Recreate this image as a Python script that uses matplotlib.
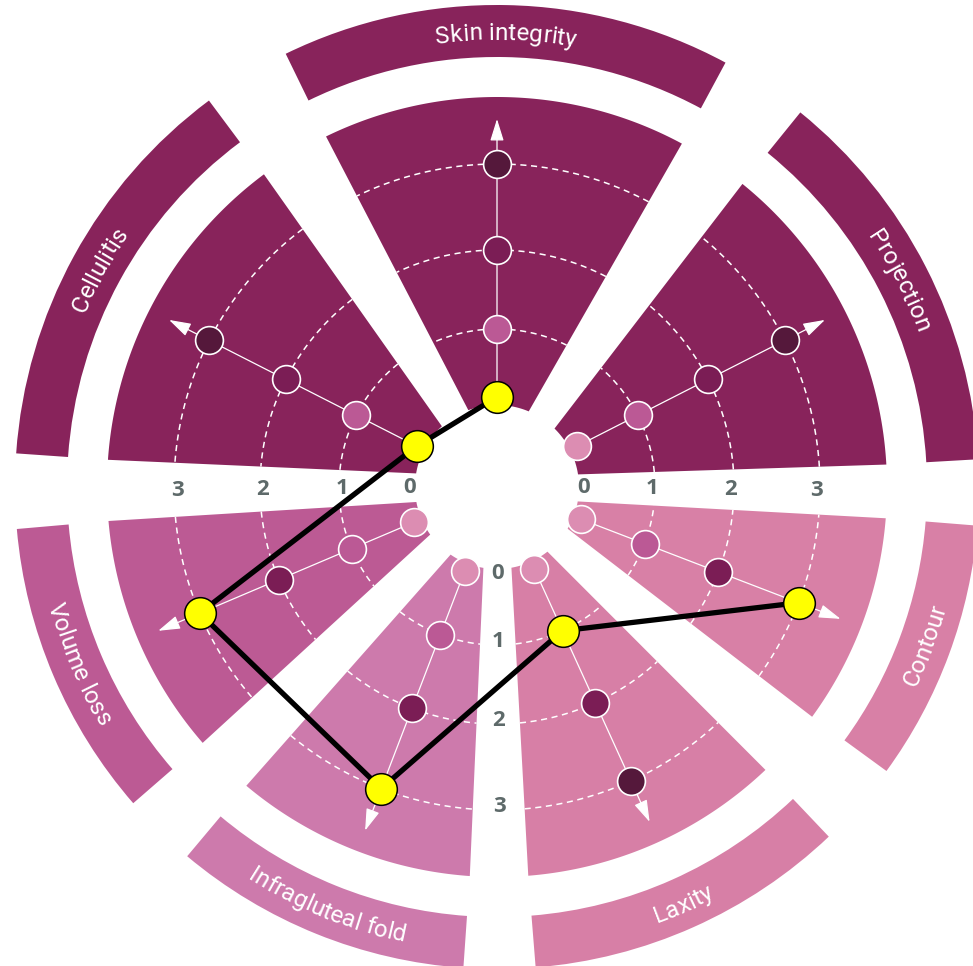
import numpy as np
import matplotlib.pyplot as plt
from matplotlib.patches import Polygon, Wedge
from matplotlib.textpath import TextToPath
from matplotlib.font_manager import FontProperties

# categories in counter-clockwise order, starting right of the top sector
categories = ['Projection', 'Skin integrity', 'Cellulitis', 'Volume loss',
              'Infragluteal fold', 'Laxity', 'Contour']
levels = [0, 1, 2, 3]
# patient score per category (None = not assessed)
patient_scores = [None, 0, 0, 3, 3, 1, 3]

sector_colors = ['#88235b', '#88235b', '#88235b', '#bc5a94',
                 '#cd7aac', '#d77fa6', '#d880a6']
level_colors = ['#dc8db2', '#bb5995', '#7b1d55', '#55183b']

# layout (pixel units, y up)
CX, CY = 497, 479
axis_angles = [27, 90, 153, 203, 249, 294.5, 339]
sector_spans = [(3.3, 51), (61.7, 116), (126.7, 176), (185, 221),
                (230, 266), (274.6, 313.5), (323.9, 355.4)]
level_radius = [90, 158, 237, 323]
R_IN, R_OUT, GAP = 82, 390, 10
BAND_IN, BAND_OUT = 430, 482
ARROW_R = 368


def polar(r, deg):
    a = np.radians(deg)
    return CX + r * np.cos(a), CY + r * np.sin(a)


def edge_angles(a1, a2, r):
    """angles of the two straight sector edges at radius r"""
    o = np.degrees(np.arcsin(GAP / R_OUT))
    lo = a1 - o + np.degrees(np.arcsin(GAP / r))
    hi = a2 + o - np.degrees(np.arcsin(GAP / r))
    return lo, hi


def sector_outline(a1, a2):
    lo_in, hi_in = edge_angles(a1, a2, R_IN)
    t_out = np.linspace(a1, a2, 120)
    t_in = np.linspace(hi_in, lo_in, 40)
    xo, yo = polar(R_OUT, t_out)
    xi, yi = polar(R_IN, t_in)
    return np.column_stack([np.r_[xo, xi], np.r_[yo, yi]])


ttp = TextToPath()


def curved_label(ax, text, center, radius, top, prop):
    px = 100 / 72
    widths = [ttp.get_text_width_height_descent(text[:i + 1], prop, ismath=False)[0] * px
              for i in range(len(text))]
    total = widths[-1]
    for i, ch in enumerate(text):
        if ch == ' ':
            continue
        w_ch = ttp.get_text_width_height_descent(ch, prop, ismath=False)[0] * px
        s = widths[i] - w_ch / 2 - total / 2
        if top:
            ang = center - np.degrees(s / radius)
            rot = ang - 90
        else:
            ang = center + np.degrees(s / radius)
            rot = ang + 90
        x, y = polar(radius, ang)
        ax.text(x, y, ch, rotation=rot, rotation_mode='anchor', ha='center',
                va='baseline', color='white', fontproperties=prop)


fig = plt.figure(figsize=(9.73, 9.66), dpi=100)
ax = fig.add_axes([0, 0, 1, 1])
ax.set_xlim(0, 973)
ax.set_ylim(0, 966)
ax.axis('off')

LABEL_SIZE = 17.5
label_prop = FontProperties(family='Roboto', size=LABEL_SIZE)
cap = 0.71 * LABEL_SIZE * 100 / 72

for k, name in enumerate(categories):
    a1, a2 = sector_spans[k]
    col = sector_colors[k]
    ax.add_patch(Polygon(sector_outline(a1, a2), closed=True, fc=col, ec='none', zorder=1))
    ax.add_patch(Wedge((CX, CY), BAND_OUT, a1, a2, width=BAND_OUT - BAND_IN,
                       fc=col, ec='none', zorder=1))

    # dashed level rings
    for lv in levels[1:]:
        r = level_radius[lv]
        lo, hi = edge_angles(a1, a2, r)
        xs, ys = polar(r, np.linspace(lo, hi, 100))
        ax.plot(xs, ys, color='white', lw=1.1, dashes=(4, 3), zorder=2)

    # scale axis with arrow
    ang = axis_angles[k]
    ax.annotate('', xy=polar(ARROW_R, ang), xytext=polar(level_radius[0], ang),
                arrowprops=dict(arrowstyle='-|>,head_length=0.9,head_width=0.28',
                                color='white', lw=0.9, shrinkA=0, shrinkB=0,
                                mutation_scale=15), zorder=3)
    for lv in levels:
        x, y = polar(level_radius[lv], ang)
        ax.scatter(x, y, s=400, color=level_colors[lv], edgecolor='white',
                   linewidth=1.2, zorder=4)

    mid = (a1 + a2) / 2
    top = 0 < mid < 180
    r_text = (BAND_IN + BAND_OUT) / 2 + (-cap / 2 if top else cap / 2)
    curved_label(ax, name, mid, r_text, top, label_prop)

# level numbers in the gaps
num_prop = dict(fontsize=16, fontweight='bold', color='#5e6a6a', family='Open Sans',
                ha='center', va='center', zorder=5)
for lv in levels:
    for ang in (-0.6, 180.6, -89.5):
        x, y = polar(level_radius[lv] - 3, ang)
        ax.text(x, y, str(lv), **num_prop)

# patient profile
pts = [polar(level_radius[v], axis_angles[k]) for k, v in enumerate(patient_scores)
       if v is not None]
px_, py_ = zip(*pts)
ax.plot(px_, py_, color='black', lw=3.8, solid_capstyle='round', zorder=6)
ax.scatter(px_, py_, s=520, color='#ffff00', edgecolor='black', linewidth=1.1, zorder=7)

fig.savefig('out.png', dpi=100)
